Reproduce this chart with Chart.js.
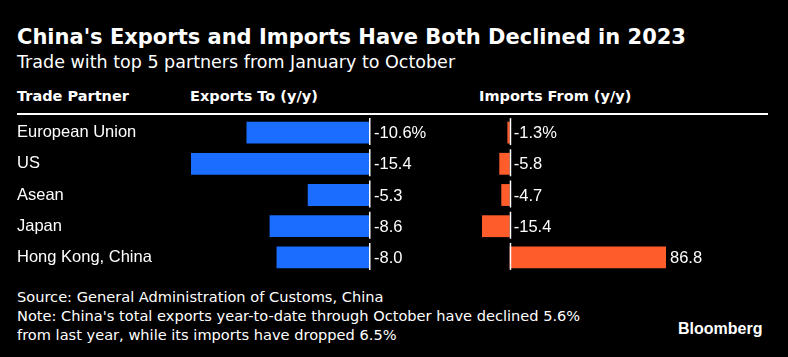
<!DOCTYPE html>
<html>
<head>
<meta charset="utf-8">
<script src="https://cdn.jsdelivr.net/npm/chart.js@4"></script>
<style>
  html, body { margin:0; padding:0; background:#000; }
  body { width:788px; height:357px; position:relative; overflow:hidden; color:#fff; }
  .t { position:absolute; white-space:nowrap; color:#fff; }
  #title { left:17px; top:27px; font:bold 21px/21px "DejaVu Sans", sans-serif; }
  #sub { left:17px; top:53px; font:17.5px/18px "DejaVu Sans", sans-serif; }
  .hdr { top:89px; font:bold 14.5px/15px "DejaVu Sans", sans-serif; }
  #rule { position:absolute; left:17px; top:113px; width:751px; height:2px; background:#fff; }
  .foot { left:17px; font:14.6px/15px "DejaVu Sans", sans-serif; }
  #brand { left:678px; top:321px; font:bold 16px/16px "Liberation Sans", Arial, sans-serif; }
  canvas { position:absolute; }
</style>
</head>
<body>
<div class="t" id="title">China's Exports and Imports Have Both Declined in 2023</div>
<div class="t" id="sub">Trade with top 5 partners from January to October</div>
<div class="t hdr" style="left:17px">Trade Partner</div>
<div class="t hdr" style="left:190px">Exports To (y/y)</div>
<div class="t hdr" style="left:479px">Imports From (y/y)</div>
<div id="rule"></div>
<canvas id="left" width="440" height="156" style="left:0px;top:117px"></canvas>
<canvas id="right" width="318" height="156" style="left:470px;top:117px"></canvas>
<div class="t foot" style="top:289px">Source: General Administration of Customs, China</div>
<div class="t foot" style="top:308px">Note: China's total exports year-to-date through October have declined 5.6%</div>
<div class="t foot" style="top:327px">from last year, while its imports have dropped 6.5%</div>
<div class="t" id="brand">Bloomberg</div>
<script>
const partners = ["European Union", "US", "Asean", "Japan", "Hong Kong, China"];
const exportsYoY = [-10.6, -15.4, -5.3, -8.6, -8.0];
const importsYoY = [-1.3, -5.8, -4.7, -15.4, 86.8];

const BLUE = '#1a6dff';
const ORANGE = '#ff5c2b';
const LABEL_FONT = '16.5px "Liberation Sans", Arial, sans-serif';

const zeroAndLabels = {
  id: 'zeroAndLabels',
  afterDatasetsDraw(chart, args, opts) {
    const ctx = chart.ctx;
    const xs = chart.scales.x;
    const x0 = xs.getPixelForValue(0);
    const meta = chart.getDatasetMeta(0);
    const data = chart.data.datasets[0].data;
    ctx.save();
    meta.data.forEach((bar, i) => {
      const y = bar.y;
      ctx.strokeStyle = '#fff';
      ctx.lineWidth = 1.5;
      ctx.beginPath();
      ctx.moveTo(x0 + 0.75, y - 14.5);
      ctx.lineTo(x0 + 0.75, y + 12.5);
      ctx.stroke();
      const v = data[i];
      const txt = v.toFixed(1) + (i === 0 ? '%' : '');
      const tx = v >= 0 ? xs.getPixelForValue(v) + 4 : x0 + opts.gap;
      ctx.fillStyle = '#fff';
      ctx.font = LABEL_FONT;
      ctx.textAlign = 'left';
      ctx.textBaseline = 'middle';
      ctx.fillText(txt, tx, y + 1);
    });
    ctx.restore();
  }
};

function makeChart(id, values, color, min, max, padding, showY, gap) {
  const yScale = {
    display: showY,
    grid: { display: false },
    border: { display: false },
    ticks: { color: '#fff', font: { family: '"Liberation Sans", Arial, sans-serif', size: 16.5 },
             crossAlign: 'far', padding: 0 }
  };
  if (showY) {
    yScale.afterFit = s => { s.width = 174; s.paddingTop = 0; s.paddingBottom = 0; };
  }
  return new Chart(document.getElementById(id), {
    type: 'bar',
    data: {
      labels: partners,
      datasets: [{ data: values, backgroundColor: color, borderWidth: 0,
                   categoryPercentage: 1, barPercentage: 0.7 }]
    },
    options: {
      indexAxis: 'y',
      responsive: false,
      animation: false,
      devicePixelRatio: 1,
      layout: { padding: padding },
      plugins: { legend: { display: false }, tooltip: { enabled: false },
                 zeroAndLabels: { gap: gap } },
      scales: {
        x: { type: 'linear', min: min, max: max, display: false },
        y: yScale
      }
    },
    plugins: [zeroAndLabels]
  });
}

makeChart('left', exportsYoY, BLUE, -15.4, 0, { left: 17, right: 71, top: 0, bottom: 0 }, true, 5);
makeChart('right', importsYoY, ORANGE, -15.4, 86.8, { left: 12, right: 122, top: 0, bottom: 0 }, false, 4);
</script>
</body>
</html>
